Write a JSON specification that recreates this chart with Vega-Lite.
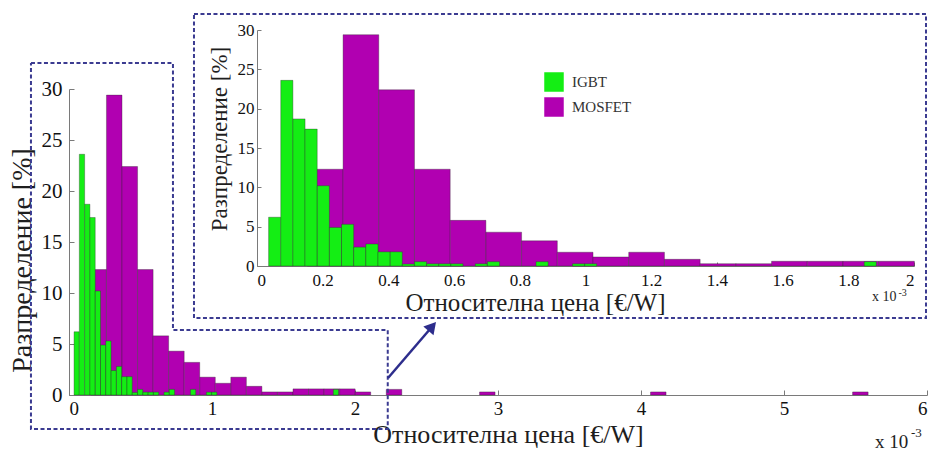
{
  "$schema": "https://vega.github.io/schema/vega-lite/v6.json",
  "width": 932,
  "height": 453,
  "autosize": {"type": "none"},
  "padding": 0,
  "background": "white",
  "config": {
    "view": {"stroke": null},
    "font": "Liberation Serif",
    "style": {"guide-label": {"font": "Liberation Serif"}, "guide-title": {"font": "Liberation Serif"}},
    "axis": {"grid": false, "domainColor": "#7a7a7a", "tickColor": "#7a7a7a", "labelColor": "#111111", "titleColor": "#1e1e1e", "titleFontWeight": "normal", "labelFont": "Liberation Serif", "titleFont": "Liberation Serif", "domainWidth": 1, "tickWidth": 1}
  },
  "data": {
    "values": [
      {"d": "MOSFET", "x0": 0.1533, "x1": 0.2620, "p": 12.3},
      {"d": "MOSFET", "x0": 0.2620, "x1": 0.3707, "p": 29.4},
      {"d": "MOSFET", "x0": 0.3707, "x1": 0.4794, "p": 22.4},
      {"d": "MOSFET", "x0": 0.4794, "x1": 0.5881, "p": 12.3},
      {"d": "MOSFET", "x0": 0.5881, "x1": 0.6968, "p": 5.8},
      {"d": "MOSFET", "x0": 0.6968, "x1": 0.8055, "p": 4.3},
      {"d": "MOSFET", "x0": 0.8055, "x1": 0.9142, "p": 3.2},
      {"d": "MOSFET", "x0": 0.9142, "x1": 1.0229, "p": 1.75},
      {"d": "MOSFET", "x0": 1.0229, "x1": 1.1316, "p": 1.15},
      {"d": "MOSFET", "x0": 1.1316, "x1": 1.2403, "p": 1.75},
      {"d": "MOSFET", "x0": 1.2403, "x1": 1.3490, "p": 0.85},
      {"d": "MOSFET", "x0": 1.3490, "x1": 1.4577, "p": 0.3},
      {"d": "MOSFET", "x0": 1.4577, "x1": 1.5664, "p": 0.3},
      {"d": "MOSFET", "x0": 1.5664, "x1": 1.6751, "p": 0.6},
      {"d": "MOSFET", "x0": 1.6751, "x1": 1.7838, "p": 0.6},
      {"d": "MOSFET", "x0": 1.7838, "x1": 1.8925, "p": 0.6},
      {"d": "MOSFET", "x0": 1.8925, "x1": 2.0012, "p": 0.6},
      {"d": "MOSFET", "x0": 2.0012, "x1": 2.1099, "p": 0.3},
      {"d": "MOSFET", "x0": 2.2186, "x1": 2.3273, "p": 0.55},
      {"d": "MOSFET", "x0": 2.8708, "x1": 2.9795, "p": 0.3},
      {"d": "MOSFET", "x0": 4.0665, "x1": 4.1752, "p": 0.3},
      {"d": "MOSFET", "x0": 5.4796, "x1": 5.5883, "p": 0.3},
      {"d": "IGBT", "x0": 0.0353, "x1": 0.0723, "p": 6.2},
      {"d": "IGBT", "x0": 0.0723, "x1": 0.1093, "p": 23.6},
      {"d": "IGBT", "x0": 0.1093, "x1": 0.1463, "p": 18.7},
      {"d": "IGBT", "x0": 0.1463, "x1": 0.1833, "p": 17.4},
      {"d": "IGBT", "x0": 0.1833, "x1": 0.2203, "p": 10.2},
      {"d": "IGBT", "x0": 0.2203, "x1": 0.2573, "p": 4.9},
      {"d": "IGBT", "x0": 0.2573, "x1": 0.2943, "p": 5.3},
      {"d": "IGBT", "x0": 0.2943, "x1": 0.3313, "p": 2.4},
      {"d": "IGBT", "x0": 0.3313, "x1": 0.3683, "p": 2.8},
      {"d": "IGBT", "x0": 0.3683, "x1": 0.4053, "p": 1.8},
      {"d": "IGBT", "x0": 0.4053, "x1": 0.4423, "p": 1.8},
      {"d": "IGBT", "x0": 0.4423, "x1": 0.4793, "p": 0.25},
      {"d": "IGBT", "x0": 0.4793, "x1": 0.5163, "p": 0.55},
      {"d": "IGBT", "x0": 0.5163, "x1": 0.5533, "p": 0.28},
      {"d": "IGBT", "x0": 0.5533, "x1": 0.5903, "p": 0.28},
      {"d": "IGBT", "x0": 0.5903, "x1": 0.6273, "p": 0.28},
      {"d": "IGBT", "x0": 0.6643, "x1": 0.7013, "p": 0.28},
      {"d": "IGBT", "x0": 0.7013, "x1": 0.7383, "p": 0.55},
      {"d": "IGBT", "x0": 0.8493, "x1": 0.8863, "p": 0.55},
      {"d": "IGBT", "x0": 0.9603, "x1": 0.9973, "p": 0.28},
      {"d": "IGBT", "x0": 0.9973, "x1": 1.0343, "p": 0.28},
      {"d": "IGBT", "x0": 1.8483, "x1": 1.8853, "p": 0.55}
    ]
  },
  "layer": [
    {
      "layer": [
        {
          "transform": [{"filter": "datum.d === 'MOSFET'"}],
          "mark": {"type": "bar", "stroke": "#2b2b2b", "strokeWidth": 0.5, "strokeOpacity": 0.7},
          "encoding": {
            "x": {"field": "x0", "type": "quantitative", "scale": {"domain": [0, 6], "range": [69, 927], "nice": false, "zero": false},
                  "axis": {"orient": "bottom", "offset": -58, "values": [0, 1, 2, 3, 4, 5, 6], "format": "~g", "tickSize": -5, "labelPadding": 9, "labelFont": "Liberation Serif", "labelFontSize": 19, "title": "Относителна цена [€/W]", "titleFont": "Liberation Serif", "titleFontSize": 26, "titleX": 508, "titleY": 47, "titleAlign": "center", "titleBaseline": "alphabetic"}},
            "x2": {"field": "x1"},
            "y": {"field": "p", "type": "quantitative", "stack": null, "scale": {"domain": [0, 30], "range": [395, 89], "nice": false, "zero": false},
                  "axis": {"orient": "left", "offset": -69, "values": [0, 5, 10, 15, 20, 25, 30], "tickSize": -5, "labelPadding": 12, "labelFont": "Liberation Serif", "labelFontSize": 21, "title": "Разпределение [%]", "titleFont": "Liberation Serif", "titleFontSize": 28, "titleX": -39, "titleY": 260, "titleAngle": 270, "titleAlign": "center", "titleBaseline": "alphabetic"}},
            "y2": {"datum": 0},
            "color": {"field": "d", "type": "nominal", "scale": {"domain": ["IGBT", "MOSFET"], "range": ["#14ee14", "#b100b1"]},
                      "legend": {"title": null, "orient": "none", "legendX": 544, "legendY": 72, "symbolType": "square", "symbolSize": 380, "symbolStrokeWidth": 0, "labelFont": "Liberation Serif", "labelFontSize": 15, "labelColor": "#333333", "labelOffset": 8, "rowPadding": 5, "padding": 0}}
          }
        },
        {
          "transform": [{"filter": "datum.d === 'IGBT'"}],
          "mark": {"type": "bar", "stroke": "#2b2b2b", "strokeWidth": 0.5, "strokeOpacity": 0.7},
          "encoding": {
            "x": {"field": "x0", "type": "quantitative", "scale": {"domain": [0, 6], "range": [69, 927], "nice": false, "zero": false}},
            "x2": {"field": "x1"},
            "y": {"field": "p", "type": "quantitative", "stack": null, "scale": {"domain": [0, 30], "range": [395, 89], "nice": false, "zero": false}},
            "y2": {"datum": 0},
            "color": {"field": "d", "type": "nominal", "scale": {"domain": ["IGBT", "MOSFET"], "range": ["#14ee14", "#b100b1"]},
                      "legend": {"title": null, "orient": "none", "legendX": 544, "legendY": 72, "symbolType": "square", "symbolSize": 380, "symbolStrokeWidth": 0, "labelFont": "Liberation Serif", "labelFontSize": 15, "labelColor": "#333333", "labelOffset": 8, "rowPadding": 5, "padding": 0}}
          }
        },
        {
          "data": {"values": [
            {"g": "a", "i": 0, "x0": -0.266, "p": 32.55},
            {"g": "a", "i": 1, "x0": 0.727, "p": 32.55},
            {"g": "a", "i": 2, "x0": 0.727, "p": 6.37},
            {"g": "a", "i": 3, "x0": 2.229, "p": 6.37},
            {"g": "a", "i": 4, "x0": 2.229, "p": -3.33},
            {"g": "a", "i": 5, "x0": -0.266, "p": -3.33},
            {"g": "a", "i": 6, "x0": -0.266, "p": 32.55},
            {"g": "b", "i": 0, "x0": 0.874, "p": 37.35},
            {"g": "b", "i": 1, "x0": 5.993, "p": 37.35},
            {"g": "b", "i": 2, "x0": 5.993, "p": 7.55},
            {"g": "b", "i": 3, "x0": 0.874, "p": 7.55},
            {"g": "b", "i": 4, "x0": 0.874, "p": 37.35}
          ]},
          "mark": {"type": "line", "strokeDash": [4, 2.5], "strokeWidth": 2, "color": "#3b3b91"},
          "encoding": {
            "x": {"field": "x0", "type": "quantitative", "scale": {"domain": [0, 6], "range": [69, 927], "nice": false, "zero": false}},
            "y": {"field": "p", "type": "quantitative", "scale": {"domain": [0, 30], "range": [395, 89], "nice": false, "zero": false}},
            "detail": {"field": "g"},
            "order": {"field": "i"}
          }
        },
        {
          "data": {"values": [
            {"i": 0, "x0": 2.231, "p": 1.67},
            {"i": 1, "x0": 2.540, "p": 6.72}
          ]},
          "mark": {"type": "line", "strokeWidth": 2.5, "color": "#2d2d8c"},
          "encoding": {
            "x": {"field": "x0", "type": "quantitative", "scale": {"domain": [0, 6], "range": [69, 927], "nice": false, "zero": false}},
            "y": {"field": "p", "type": "quantitative", "scale": {"domain": [0, 30], "range": [395, 89], "nice": false, "zero": false}},
            "order": {"field": "i"}
          }
        },
        {
          "data": {"values": [{"x0": 2.540, "p": 6.72}]},
          "mark": {"type": "point", "shape": "triangle-up", "filled": true, "size": 180, "angle": 40.5, "color": "#2d2d8c", "opacity": 1},
          "encoding": {
            "x": {"field": "x0", "type": "quantitative", "scale": {"domain": [0, 6], "range": [69, 927], "nice": false, "zero": false}},
            "y": {"field": "p", "type": "quantitative", "scale": {"domain": [0, 30], "range": [395, 89], "nice": false, "zero": false}}
          }
        },
        {
          "data": {"values": [{"x0": 5.636, "p": -5.2, "t": "x 10"}]},
          "mark": {"type": "text", "align": "left", "baseline": "alphabetic", "fontSize": 19, "font": "Liberation Serif", "color": "#1e1e1e"},
          "encoding": {
            "x": {"field": "x0", "type": "quantitative", "scale": {"domain": [0, 6], "range": [69, 927], "nice": false, "zero": false}},
            "y": {"field": "p", "type": "quantitative", "scale": {"domain": [0, 30], "range": [395, 89], "nice": false, "zero": false}},
            "text": {"field": "t"}
          }
        },
        {
          "data": {"values": [{"x0": 5.888, "p": -4.1, "t": "-3"}]},
          "mark": {"type": "text", "align": "left", "baseline": "alphabetic", "fontSize": 13, "font": "Liberation Serif", "color": "#1e1e1e"},
          "encoding": {
            "x": {"field": "x0", "type": "quantitative", "scale": {"domain": [0, 6], "range": [69, 927], "nice": false, "zero": false}},
            "y": {"field": "p", "type": "quantitative", "scale": {"domain": [0, 30], "range": [395, 89], "nice": false, "zero": false}},
            "text": {"field": "t"}
          }
        },
        {
          "data": {"values": [{"x0": 5.615, "p": 9.2, "t": "x 10"}]},
          "mark": {"type": "text", "align": "left", "baseline": "alphabetic", "fontSize": 14, "font": "Liberation Serif", "color": "#1e1e1e"},
          "encoding": {
            "x": {"field": "x0", "type": "quantitative", "scale": {"domain": [0, 6], "range": [69, 927], "nice": false, "zero": false}},
            "y": {"field": "p", "type": "quantitative", "scale": {"domain": [0, 30], "range": [395, 89], "nice": false, "zero": false}},
            "text": {"field": "t"}
          }
        },
        {
          "data": {"values": [{"x0": 5.801, "p": 9.7, "t": "-3"}]},
          "mark": {"type": "text", "align": "left", "baseline": "alphabetic", "fontSize": 10, "font": "Liberation Serif", "color": "#1e1e1e"},
          "encoding": {
            "x": {"field": "x0", "type": "quantitative", "scale": {"domain": [0, 6], "range": [69, 927], "nice": false, "zero": false}},
            "y": {"field": "p", "type": "quantitative", "scale": {"domain": [0, 30], "range": [395, 89], "nice": false, "zero": false}},
            "text": {"field": "t"}
          }
        }
      ]
    },
    {
      "transform": [{"filter": "datum.x0 < 2"}],
      "layer": [
        {
          "transform": [{"filter": "datum.d === 'MOSFET'"}],
          "mark": {"type": "bar", "stroke": "#2b2b2b", "strokeWidth": 0.5, "strokeOpacity": 0.7},
          "encoding": {
            "x": {"field": "x0", "type": "quantitative", "scale": {"domain": [0, 2], "range": [257, 914], "nice": false, "zero": false},
                  "axis": {"orient": "bottom", "offset": -187, "values": [0, 0.2, 0.4, 0.6, 0.8, 1, 1.2, 1.4, 1.6, 1.8, 2], "format": "~g", "tickSize": -4, "labelPadding": 10, "labelFont": "Liberation Serif", "labelFontSize": 17, "title": "Относителна цена [€/W]", "titleFont": "Liberation Serif", "titleFontSize": 25, "titleX": 535, "titleY": 44, "titleAlign": "center", "titleBaseline": "alphabetic"}},
            "x2": {"field": "x1"},
            "y": {"field": "p", "type": "quantitative", "stack": null, "scale": {"domain": [0, 30], "range": [266, 30], "nice": false, "zero": false},
                  "axis": {"orient": "left", "offset": -257, "values": [0, 5, 10, 15, 20, 25, 30], "tickSize": -4, "labelPadding": 7, "labelFont": "Liberation Serif", "labelFontSize": 17, "title": "Разпределение [%]", "titleFont": "Liberation Serif", "titleFontSize": 23, "titleX": -31, "titleY": 138.5, "titleAngle": 270, "titleAlign": "center", "titleBaseline": "alphabetic"}},
            "y2": {"datum": 0},
            "color": {"field": "d", "type": "nominal", "scale": {"domain": ["IGBT", "MOSFET"], "range": ["#14ee14", "#b100b1"]},
                      "legend": {"title": null, "orient": "none", "legendX": 544, "legendY": 72, "symbolType": "square", "symbolSize": 380, "symbolStrokeWidth": 0, "labelFont": "Liberation Serif", "labelFontSize": 15, "labelColor": "#333333", "labelOffset": 8, "rowPadding": 5, "padding": 0}}
          }
        },
        {
          "transform": [{"filter": "datum.d === 'IGBT'"}],
          "mark": {"type": "bar", "stroke": "#2b2b2b", "strokeWidth": 0.5, "strokeOpacity": 0.7},
          "encoding": {
            "x": {"field": "x0", "type": "quantitative", "scale": {"domain": [0, 2], "range": [257, 914], "nice": false, "zero": false}},
            "x2": {"field": "x1"},
            "y": {"field": "p", "type": "quantitative", "stack": null, "scale": {"domain": [0, 30], "range": [266, 30], "nice": false, "zero": false}},
            "y2": {"datum": 0},
            "color": {"field": "d", "type": "nominal", "scale": {"domain": ["IGBT", "MOSFET"], "range": ["#14ee14", "#b100b1"]},
                      "legend": {"title": null, "orient": "none", "legendX": 544, "legendY": 72, "symbolType": "square", "symbolSize": 380, "symbolStrokeWidth": 0, "labelFont": "Liberation Serif", "labelFontSize": 15, "labelColor": "#333333", "labelOffset": 8, "rowPadding": 5, "padding": 0}}
          }
        }
      ]
    }
  ],
  "resolve": {"scale": {"x": "independent", "y": "independent"}}
}
